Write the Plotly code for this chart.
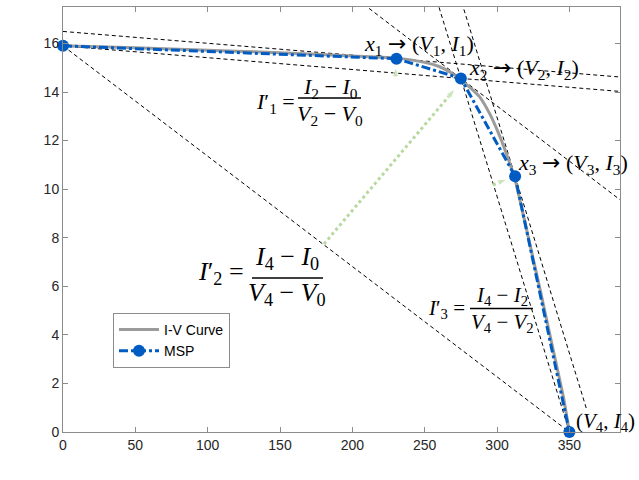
import plotly.graph_objects as go

# ---------------- data ----------------
msp_v = [0, 230.5, 275, 312.5, 350]
msp_i = [15.9, 15.37, 14.56, 10.53, 0]

iv_v = [0, 50, 100, 150, 200, 230, 250, 260, 268, 275, 282, 288, 295, 300, 305, 308, 312, 320, 330, 340, 346, 350]
iv_i = [15.9, 15.82, 15.72, 15.62, 15.48, 15.4, 15.22, 15.05, 14.8, 14.5, 14.15, 13.8, 13.1, 12.45, 11.7, 11.2, 10.5, 8.45, 5.8, 3.05, 1.4, 0]

x_ticks = [0, 50, 100, 150, 200, 250, 300, 350]
y_ticks = [0, 2, 4, 6, 8, 10, 12, 14, 16]

X_MAX = 385
Y_MAX = 17.5

# ---------------- geometry helpers ----------------
W, H = 639, 480
ML, MR, MT, MB = 63, 19, 7, 48
PW, PH = W - ML - MR, H - MT - MB


def px_x(px):
    return (px - ML) / PW * X_MAX


def px_y(py):
    return (H - MB - py) / PH * Y_MAX


V0, V1, V2, V3, V4 = msp_v
I0, I1, I2, I3, I4 = msp_i
s1 = (I2 - I0) / (V2 - V0)
s2 = (I4 - I0) / (V4 - V0)
s3 = (I4 - I2) / (V4 - V2)

fig = go.Figure()

dash_style = dict(color="black", width=1, dash="4px,3px")


def add_line(xa, xb, x0, y0, slope):
    fig.add_trace(go.Scatter(
        x=[xa, xb], y=[y0 + slope * (xa - x0), y0 + slope * (xb - x0)],
        mode="lines", line=dash_style, showlegend=False, hoverinfo="skip"))


# tangent at P1 (slope I1')
add_line(0, X_MAX, V1, I1, s1)
# chord P0 -> P2 extended
add_line(0, X_MAX, V0, I0, s1)
# chord P0 -> P4
add_line(V0, V4, V0, I0, s2)
# tangent at P2 (slope I2')
add_line(200, X_MAX, V2, I2, s2)
# chord P2 -> P4 extended
add_line(250, V4, V2, I2, s3)
# tangent at P3 (slope I3')
add_line(270, 362, V3, I3, s3)

# I-V curve
fig.add_trace(go.Scatter(x=iv_v, y=iv_i, mode="lines", name="I-V Curve",
                         line=dict(color="#9b9b9b", width=3, shape="spline", smoothing=0.6)))

# green dotted arrows
green = "#b6d99f"
arrows = [
    ((324, 244), (455, 89)),
    ((395.5, 77), (396, 67)),
    ((493, 185), (507, 179)),
]
for (a, b) in arrows:
    fig.add_trace(go.Scatter(
        x=[px_x(a[0]), px_x(b[0])], y=[px_y(a[1]), px_y(b[1])],
        mode="lines+markers",
        line=dict(color=green, width=3, dash="dot"),
        marker=dict(symbol="arrow", angleref="previous", size=[0, 10], color=green),
        showlegend=False, hoverinfo="skip"))

# MSP
fig.add_trace(go.Scatter(x=msp_v, y=msp_i, mode="lines+markers", name="MSP",
                         line=dict(color="#005cc2", width=3, dash="dashdot"),
                         marker=dict(color="#005cc2", size=12), cliponaxis=False))

# ---------------- text annotations ----------------
SERIF = "Liberation Serif"
ARROW = "<span style='font-family:DejaVu Sans'>→</span>"


def txt(text, px, py, size=22, xanchor="center", yanchor="middle"):
    fig.add_annotation(x=px_x(px), y=px_y(py), text=text, showarrow=False,
                       xanchor=xanchor, yanchor=yanchor,
                       font=dict(family=SERIF, size=size, color="black"))


def bar(px0, px1, py, width=1.5):
    fig.add_shape(type="line", x0=px_x(px0), x1=px_x(px1), y0=px_y(py), y1=px_y(py),
                  line=dict(color="black", width=width))


txt("(<i>V<sub>o</sub></i>,<i>I<sub>o</sub></i>)", 2, 23, size=26, xanchor="left")
txt("<i>x</i><sub>1</sub> " + ARROW + " (<i>V</i><sub>1</sub>, <i>I</i><sub>1</sub>)", 362, 45, xanchor="left")
txt("<i>x</i><sub>2</sub> " + ARROW + " (<i>V</i><sub>2</sub>, <i>I</i><sub>2</sub>)", 467, 69, xanchor="left")
txt("<i>x</i><sub>3</sub> " + ARROW + " (<i>V</i><sub>3</sub>, <i>I</i><sub>3</sub>)", 516, 164, xanchor="left")
txt("(<i>V</i><sub>4</sub>, <i>I</i><sub>4</sub>)", 574, 422, size=21, xanchor="left")

# I1'
txt("<i>I</i>′<sub>1</sub> =", 297, 103, xanchor="right")
txt("<i>I</i><sub>2</sub> − <i>I</i><sub>0</sub>", 330, 88)
bar(298, 361, 98)
txt("<i>V</i><sub>2</sub> − <i>V</i><sub>0</sub>", 330, 115)

# I2'
txt("<i>I</i>′<sub>2</sub> =", 246, 273, size=26, xanchor="right")
txt("<i>I</i><sub>4</sub> − <i>I</i><sub>0</sub>", 287, 258, size=26)
bar(252, 323, 278)
txt("<i>V</i><sub>4</sub> − <i>V</i><sub>0</sub>", 287, 294, size=26)

# I3'
txt("<i>I</i>′<sub>3</sub> =", 467, 309, size=21, xanchor="right")
txt("<i>I</i><sub>4</sub> − <i>I</i><sub>2</sub>", 502, 296, size=21)
bar(470, 533, 308.5)
txt("<i>V</i><sub>4</sub> − <i>V</i><sub>2</sub>", 502, 323, size=21)

# axis titles
SANS = "Liberation Sans"
fig.add_annotation(x=px_x(341), y=px_y(462), text="Voltage (V)", showarrow=False,
                   font=dict(family=SANS, size=14, color="#262626"))
fig.add_annotation(x=px_x(27), y=px_y(240), text="Current (A)", showarrow=False, textangle=-90,
                   font=dict(family=SANS, size=14, color="#262626"))

axis_common = dict(showgrid=False, zeroline=False, showline=True, linecolor="#8c8c8c", linewidth=1,
                   mirror="ticks", ticks="inside", ticklen=5, tickcolor="#8c8c8c",
                   tickfont=dict(family=SANS, size=14, color="#262626"))

fig.update_layout(
    width=W, height=H,
    margin=dict(l=ML, r=MR, t=MT, b=MB, pad=0),
    plot_bgcolor="white", paper_bgcolor="white",
    xaxis=dict(range=[0, X_MAX], tickvals=x_ticks, **axis_common),
    yaxis=dict(range=[0, Y_MAX], tickvals=y_ticks, **axis_common),
    legend=dict(x=(113 - ML) / PW, y=(H - MB - 313) / PH, xanchor="left", yanchor="top",
                bordercolor="#8c8c8c", borderwidth=1, bgcolor="white",
                font=dict(family=SANS, size=14, color="black"),
                tracegroupgap=0, itemwidth=40),
    showlegend=True,
)

fig.write_html("out.html")
